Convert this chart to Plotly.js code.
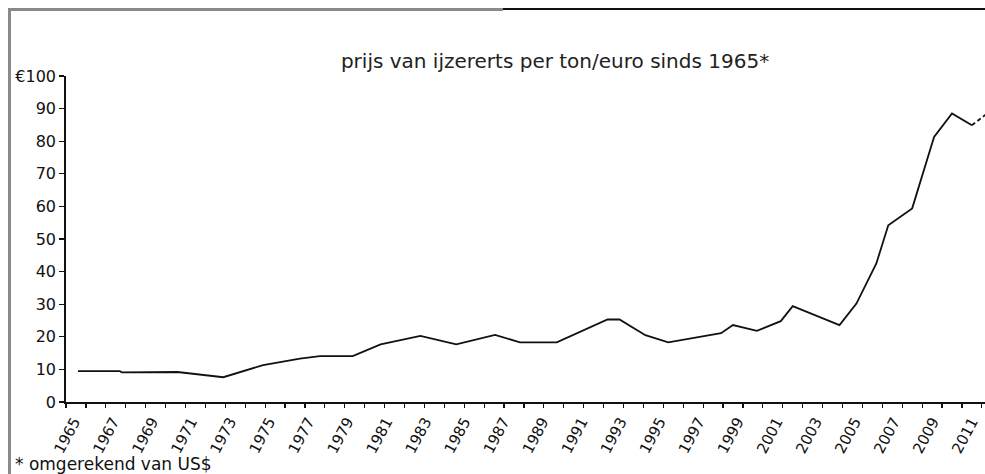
<!DOCTYPE html>
<html>
<head>
<meta charset="utf-8">
<script src="https://cdn.plot.ly/plotly-3.0.1.min.js"></script>
<style>
  html, body { margin: 0; padding: 0; background: #fff; overflow: hidden; }
  #wrap { position: relative; width: 985px; height: 474px; overflow: hidden; }
  #chart { position: absolute; left: 0; top: 0; width: 985px; height: 474px; }
  .frame { position: absolute; pointer-events: none; }
</style>
</head>
<body>
<div id="wrap">
  <div id="chart"></div>
  <div class="frame" style="left:8px; top:8px; width:3px; height:466px; background:#8a8a8a;"></div>
  <div class="frame" style="left:8px; top:8px; width:495px; height:3px; background:#8a8a8a;"></div>
  <div class="frame" style="left:503px; top:8px; width:482px; height:2px; background:#111;"></div>
</div>
<script>
// Data (year positions as drawn, price in euro per ton)
var jaren = [1965.6, 1967.7, 1967.8, 1970.6, 1972.9, 1974.9, 1976.75, 1977.75, 1979.4, 1980.8,
             1982.8, 1984.6, 1986.55, 1987.8, 1989.65, 1991.0, 1992.2, 1992.8, 1994.1, 1995.25,
             1996.85, 1997.9, 1998.5, 1999.7, 2000.9, 2001.5, 2003.85, 2004.7, 2005.7, 2006.3,
             2007.5, 2008.6, 2009.5, 2010.5];
var prijs = [9.5, 9.5, 9.1, 9.2, 7.6, 11.3, 13.3, 14.1, 14.1, 17.7,
             20.3, 17.7, 20.6, 18.3, 18.3, 22.0, 25.3, 25.3, 20.5, 18.3,
             20.0, 21.1, 23.6, 21.8, 24.8, 29.4, 23.6, 30.2, 42.5, 54.2,
             59.4, 81.3, 88.5, 84.9];
// forecast (dashed) continuation
var prognoseJaren = [2010.5, 2011.5];
var prognosePrijs = [84.9, 89.6];

var tickJaren = [];
for (var j = 1965; j <= 2011; j++) { tickJaren.push(j); }
var labelJaren = [];
var labelTekst = [];
for (var k = 1965; k <= 2011; k += 2) { labelJaren.push(k); labelTekst.push(String(k)); }

var yWaarden = [0, 10, 20, 30, 40, 50, 60, 70, 80, 90, 100];
var yTekst = ['0', '10', '20', '30', '40', '50', '60', '70', '80', '90', '€100'];

var titel = 'prijs van ijzererts per ton/euro sinds 1965*';
var voetnoot = '* omgerekend van US$';

var font = 'DejaVu Sans, Arial, sans-serif';

var traces = [
  { x: jaren, y: prijs, type: 'scatter', mode: 'lines',
    line: { color: '#111', width: 1.8 }, hoverinfo: 'skip' },
  { x: prognoseJaren, y: prognosePrijs, type: 'scatter', mode: 'lines',
    line: { color: '#111', width: 1.8, dash: '4px,3px' }, hoverinfo: 'skip' },
  // invisible helper so the label axis is drawn
  { x: [labelJaren[0]], y: [yWaarden[0]], xaxis: 'x2', yaxis: 'y', type: 'scatter',
    mode: 'markers', marker: { opacity: 0 }, hoverinfo: 'skip' }
];

var labelSchaal = 19.52;
var labelStart = 1965 - 8 / labelSchaal;

var layout = {
  width: 985, height: 474,
  margin: { l: 66, r: 0, t: 76, b: 72, pad: 0 },
  paper_bgcolor: '#fff', plot_bgcolor: '#fff',
  showlegend: false,
  font: { family: font, color: '#111' },
  title: { text: titel, font: { family: font, size: 20, color: '#222' },
           x: 0.5635, xref: 'container', xanchor: 'center',
           y: 0.872, yref: 'container', yanchor: 'middle' },
  xaxis: {
    range: [1965, 1965 + 919 / 19.91],
    tickmode: 'array', tickvals: tickJaren, showticklabels: false,
    ticks: 'outside', ticklen: 4, tickwidth: 1.2, tickcolor: '#111',
    showline: true, linecolor: '#111', linewidth: 1.8,
    showgrid: false, zeroline: false, fixedrange: true
  },
  xaxis2: {
    overlaying: 'x', anchor: 'y', side: 'bottom',
    range: [labelStart, labelStart + 919 / labelSchaal],
    tickmode: 'array', tickvals: labelJaren, ticktext: labelTekst,
    tickangle: -62, ticks: 'outside', ticklen: 4, tickcolor: 'rgba(0,0,0,0)',
    ticklabeloverflow: 'allow',
    tickfont: { family: font, size: 15, color: '#111' },
    showline: false, showgrid: false, zeroline: false, fixedrange: true
  },
  yaxis: {
    range: [0, 100],
    tickmode: 'array', tickvals: yWaarden, ticktext: yTekst,
    ticks: 'outside', ticklen: 5, tickwidth: 1.2, tickcolor: '#111',
    tickfont: { family: font, size: 16, color: '#111' },
    showline: true, linecolor: '#111', linewidth: 1.8,
    showgrid: false, zeroline: false, fixedrange: true
  },
  annotations: [
    { text: voetnoot, xref: 'paper', yref: 'paper',
      x: (13 - 66) / 919, y: -(464 - 402) / 326, xanchor: 'left', yanchor: 'middle',
      showarrow: false, font: { family: font, size: 17, color: '#111' } }
  ]
};

Plotly.newPlot('chart', traces, layout, { displayModeBar: false, staticPlot: true });
</script>
</body>
</html>
